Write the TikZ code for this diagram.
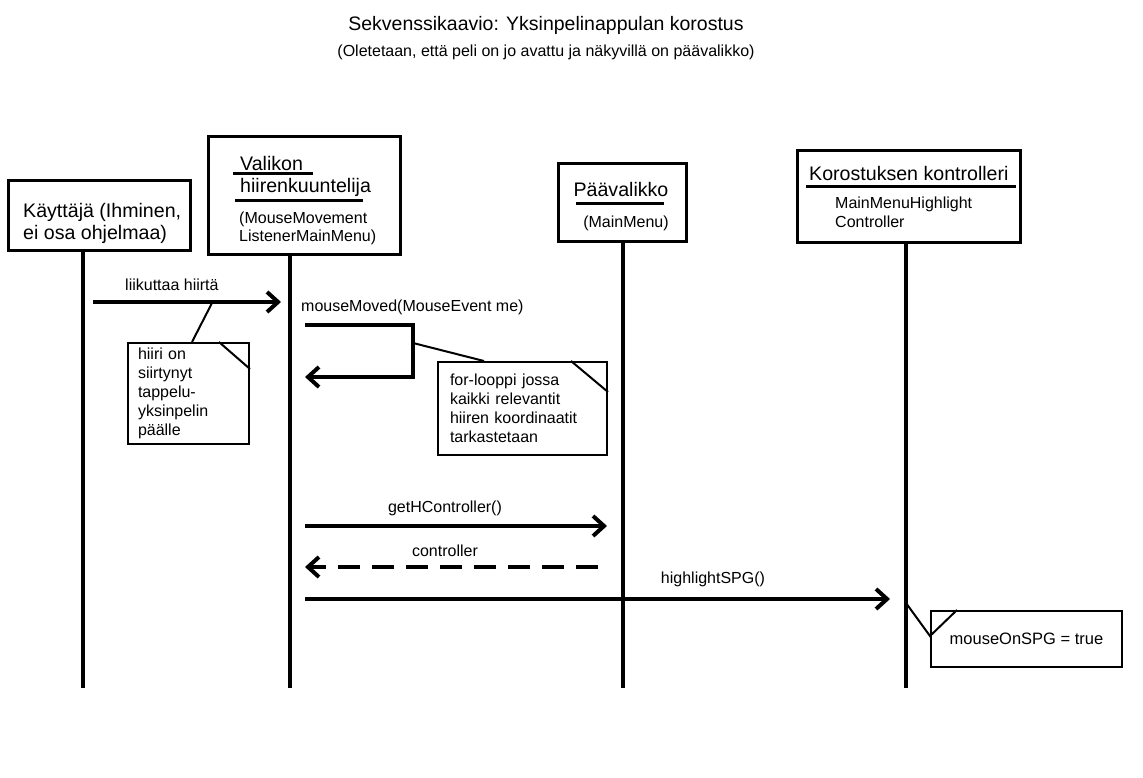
\documentclass[tikz,border=0pt]{standalone}
\usepackage{fontspec}
\setmainfont{Liberation Sans}
\usetikzlibrary{arrows.meta}

\begin{document}
\begin{tikzpicture}[x=1pt, y=-1pt,
  big/.style={font=\fontsize{19.6}{22}\selectfont, inner sep=0pt},
  small/.style={font=\fontsize{16}{19}\selectfont, inner sep=0pt},
  box/.style={draw, line width=3pt, inner sep=0pt},
  note/.style={draw, line width=2pt, inner sep=0pt, align=left,
    font=\fontsize{16}{19}\selectfont},
  life/.style={line width=4pt},
  msg/.style={line width=4pt, -{Straight Barb[length=11pt, width=20pt]}},
  link/.style={line width=2pt}]
  \useasboundingbox (0,0) rectangle (1143,778);

  % title
  \node[font=\fontsize{19.5}{23}\selectfont] (title) at (546,25) {Sekvenssikaavio: Yksinpelinappulan korostus};
  \node[font=\fontsize{16}{19}\selectfont] (subtitle) at (546,52) {(Oletetaan, että peli on jo avattu ja näkyvillä on päävalikko)};

  % objects
  \node[box, minimum width=182pt, minimum height=69pt] (kayttaja) at (99,215.5) {};
  \node[big, anchor=base west] (k1) at (23,218) {Käyttäjä (Ihminen,};
  \node[big, anchor=base west] (k2) at (23,240) {ei osa ohjelmaa)};

  \node[box, minimum width=192pt, minimum height=117pt] (valikon) at (304,195.5) {};
  \node[big, anchor=base west] (v1) at (240,171) {Valikon};
  \node[big, anchor=base west] (v2) at (240,193) {hiirenkuuntelija};
  \node[small, anchor=base west] (v3) at (239,223) {(MouseMovement};
  \node[small, anchor=base west] (v4) at (239,241) {ListenerMainMenu)};
  \draw[line width=3pt] (233,174) -- (313,174);
  \draw[line width=3pt] (235,201) -- (363,201);

  \node[box, minimum width=128pt, minimum height=77pt] (paavalikko) at (622,202.5) {};
  \node[big, anchor=base] (p1) at (621,197) {Päävalikko};
  \node[small, anchor=base] (p2) at (626,228) {(MainMenu)};
  \draw[line width=3pt] (576,204) -- (664,204);

  \node[box, minimum width=223pt, minimum height=91pt] (korostus) at (908.5,196.5) {};
  \node[big, anchor=base west] (c1) at (809,181) {Korostuksen kontrolleri};
  \node[small, anchor=base west] (c2) at (835,208) {MainMenuHighlight};
  \node[small, anchor=base west] (c3) at (835,228) {Controller};
  \draw[line width=3pt] (806,187) -- (1016,187);

  % lifelines
  \coordinate (K) at (83,688);
  \coordinate (V) at (290,688);
  \coordinate (P) at (623,688);
  \coordinate (C) at (906,688);
  \draw[life] (kayttaja.south -| K) -- (K);
  \draw[life] (valikon.south -| V) -- (V);
  \draw[life] (paavalikko.south -| P) -- (P);
  \draw[life] (korostus.south -| C) -- (C);

  % liikuttaa hiirta
  \coordinate (m1a) at (93,302);
  \coordinate (m1b) at (281,302);
  \draw[msg] (m1a) -- (m1b);
  \node[small, anchor=base west] (l1) at (125,290) {liikuttaa hiirtä};

  \node[note, minimum width=121pt, minimum height=101pt, text width=101pt] (n1) at (188.5,393.5)
    {hiiri on\\siirtynyt\\tappelu-\\yksinpelin\\päälle};
  \draw[link] ([xshift=-31pt]n1.north east) -- ([yshift=-27pt]n1.north east);
  \coordinate (n1a) at (212,303);
  \draw[link] (n1a) -- ([xshift=65pt]n1.north west);

  % mouseMoved
  \node[small, anchor=base west] (l2) at (301,311) {mouseMoved(MouseEvent me)};
  \coordinate (s1) at (305,325);
  \coordinate (s2) at (413,325);
  \coordinate (s3) at (413,377);
  \coordinate (s4) at (305,377);
  \draw[msg] (s1) -- (s2) -- (s3) -- (s4);

  \node[note, minimum width=169pt, minimum height=93pt, text width=145pt] (n2) at (522.5,408.5)
    {for-looppi jossa\\kaikki relevantit\\hiiren koordinaatit\\tarkastetaan};
  \draw[link] ([xshift=-37pt]n2.north east) -- ([yshift=-31pt]n2.north east);
  \coordinate (n2a) at (413,343);
  \draw[link] (n2a) -- ([xshift=47pt]n2.north west);

  % getHController
  \coordinate (m3a) at (305,526);
  \coordinate (m3b) at (607,526);
  \draw[msg] (m3a) -- (m3b);
  \node[small, anchor=base] (l3) at (445,512) {getHController()};

  \coordinate (m4a) at (598,567);
  \coordinate (m4b) at (305,567);
  \draw[msg, dash pattern=on 22pt off 12pt] (m4a) -- (m4b);
  \node[small, anchor=base] (l4) at (445,556) {controller};

  % highlightSPG
  \coordinate (m5a) at (305,599);
  \coordinate (m5b) at (890,599);
  \draw[msg] (m5a) -- (m5b);
  \node[small, anchor=base] (l5) at (713,583) {highlightSPG()};

  \node[note, minimum width=191pt, minimum height=56pt, font=\fontsize{16.5}{19}\selectfont] (n3) at (1026.5,639)
    {\raisebox{-4pt}{mouseOnSPG = true}};
  \coordinate (n3a) at (906,603);
  \draw[link] (n3a) -- ([yshift=-26pt]n3.north west) -- ([xshift=27pt]n3.north west);
\end{tikzpicture}
\end{document}
